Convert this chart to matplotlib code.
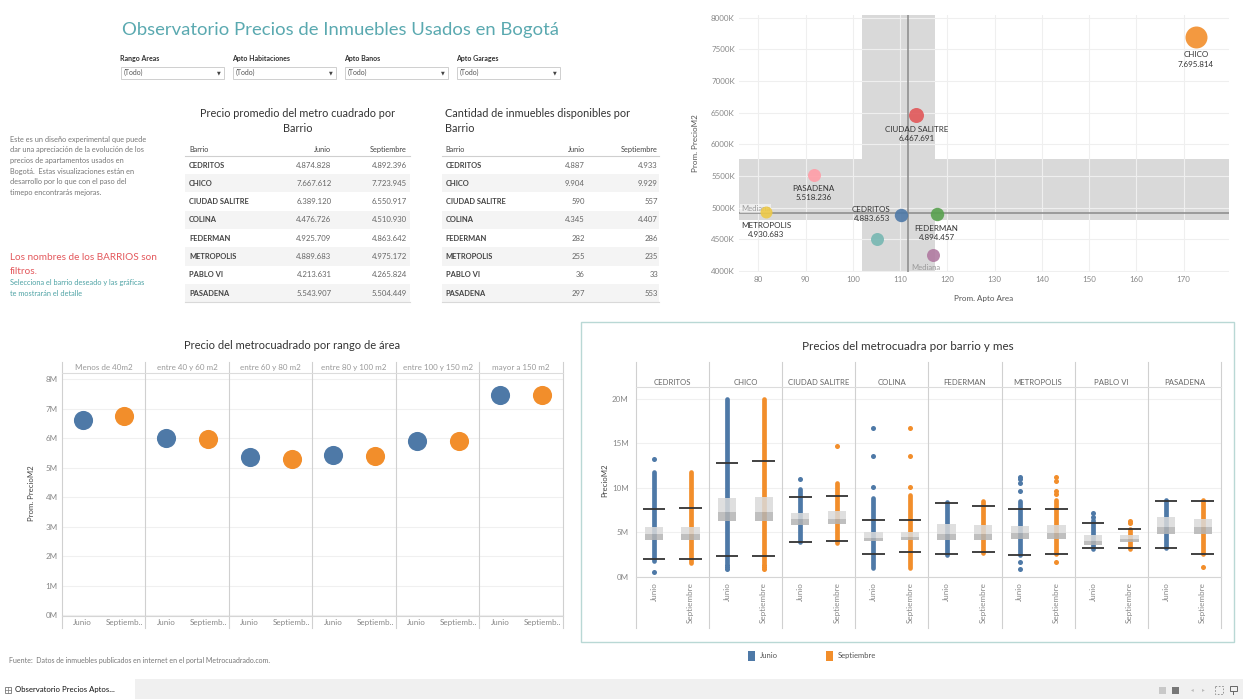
import numpy as np
import matplotlib
matplotlib.use('Agg')
import matplotlib.pyplot as plt
from matplotlib.patches import Rectangle
from matplotlib.ticker import FuncFormatter

plt.rcParams['font.family'] = ['Lato', 'DejaVu Sans']

W, H = 1243, 699
AZUL = '#4e79a7'
NARANJA = '#f28e2b'

# ---------------- datos ----------------
barrios = ['CEDRITOS', 'CHICO', 'CIUDAD SALITRE', 'COLINA', 'FEDERMAN',
           'METROPOLIS', 'PABLO VI', 'PASADENA']
meses = ['Junio', 'Septiembre']

precio_junio = [4874828, 7667612, 6389120, 4476726, 4925709, 4889683, 4213631, 5543907]
precio_septiembre = [4892396, 7723945, 6550917, 4510930, 4863642, 4975172, 4265824, 5504449]
cantidad_junio = [4887, 9904, 590, 4345, 282, 255, 36, 297]
cantidad_septiembre = [4933, 9929, 557, 4407, 286, 235, 33, 553]

# dispersion area vs precio
disp_barrios = ['CHICO', 'CIUDAD SALITRE', 'PASADENA', 'METROPOLIS', 'CEDRITOS',
                'FEDERMAN', 'COLINA', 'PABLO VI']
disp_area = [172.6, 113.4, 91.7, 81.6, 110.1, 117.7, 105.2, 117.0]
disp_precio = [7695814, 6467691, 5518236, 4930683, 4883653, 4894457, 4505000, 4253000]
disp_etiqueta = [True, True, True, True, True, True, False, False]
banda_area = (101.9, 117.3)
banda_precio = (4811000, 5768000)

# precio por rango de area (millones)
rangos = ['Menos de 40m2', 'entre 40 y 60 m2', 'entre 60 y 80 m2',
          'entre 80 y 100 m2', 'entre 100 y 150 m2', 'mayor a 150 m2']
rango_junio = [6.62, 6.01, 5.36, 5.43, 5.91, 7.46]
rango_septiembre = [6.77, 5.99, 5.31, 5.41, 5.90, 7.48]

# cajas por barrio y mes (millones), orden: barrio x (Junio, Septiembre)
caja_min = [1.82, 1.60, 1.52, 1.52, 3.88, 3.84, 0.96, 0.96, 2.46, 2.72, 2.46, 2.61, 3.09, 3.10, 3.21, 2.57]
caja_bigote_inf = [2.01, 2.01, 2.31, 2.31, 3.88, 4.03, 2.61, 2.76, 2.61, 2.83, 2.46, 2.61, 3.21, 3.21, 3.21, 2.57]
caja_q1 = [4.14, 4.14, 6.23, 6.23, 5.86, 5.97, 4.07, 4.10, 4.10, 4.10, 4.22, 4.22, 3.54, 3.88, 4.78, 4.78]
caja_mediana = [4.78, 4.78, 7.24, 7.24, 6.46, 6.50, 4.40, 4.52, 4.78, 4.82, 4.89, 4.97, 4.07, 4.22, 5.56, 5.56]
caja_q3 = [5.64, 5.64, 8.88, 9.00, 7.13, 7.36, 5.00, 5.00, 5.90, 5.79, 5.68, 5.79, 4.67, 4.71, 6.69, 6.46]
caja_bigote_sup = [7.66, 7.77, 12.80, 12.97, 8.93, 9.12, 6.35, 6.35, 8.33, 8.00, 7.62, 7.66, 6.01, 5.38, 8.56, 8.56]
caja_max = [11.81, 11.81, 20.0, 20.0, 9.83, 10.50, 8.82, 9.19, 8.37, 8.52, 8.56, 8.60, 6.40, 5.38, 8.63, 8.63]
caja_atipicos = [[13.19, 0.59], [], [1.33, 1.07, 0.85], [1.33, 1.07, 0.85], [10.95], [14.73],
                 [16.75, 13.57, 10.05], [16.75, 13.57, 10.13], [], [],
                 [11.25, 10.95, 10.58, 9.68, 1.71, 0.85], [11.25, 10.76, 9.68, 9.3, 1.71],
                 [7.21, 6.76], [6.27, 6.10], [], [1.15]]

colores_barrio = {'CHICO': '#f28e2b', 'CIUDAD SALITRE': '#e15759', 'PASADENA': '#ff9da7',
                  'METROPOLIS': '#edc948', 'CEDRITOS': '#4e79a7', 'FEDERMAN': '#59a14f',
                  'COLINA': '#76b7b2', 'PABLO VI': '#b07aa1'}
radio_barrio = {'CHICO': 11, 'CIUDAD SALITRE': 7.5, 'PASADENA': 6.5, 'METROPOLIS': 6,
                'CEDRITOS': 6.7, 'FEDERMAN': 6.7, 'COLINA': 6.5, 'PABLO VI': 6.5}


def miles(v):
    return f'{v:,}'.replace(',', '.')


def ejes_px(x0, y0, x1, y1):
    return fig.add_axes([x0 / W, 1 - y1 / H, (x1 - x0) / W, (y1 - y0) / H])


fig = plt.figure(figsize=(W / 100, H / 100), dpi=100)

# lienzo general en pixeles
bg = fig.add_axes([0, 0, 1, 1])
bg.set_xlim(0, W)
bg.set_ylim(H, 0)
bg.axis('off')

# titulo y filtros
bg.text(341, 30, 'Observatorio Precios de Inmuebles Usados en Bogotá', fontsize=13.3,
        color='#5aa9b0', ha='center', va='center')
filtros = ['Rango Areas', 'Apto Habitaciones', 'Apto Banos', 'Apto Garages']
for i, f in enumerate(filtros):
    x = 120 + i * 112
    bg.text(x, 58.5, f, fontsize=5, color='#333', fontweight='bold', va='center')
    bg.add_patch(Rectangle((x + 1, 66.5), 103, 12, fc='white', ec='#c8c8c8', lw=0.6))
    bg.text(x + 4, 72.5, '(Todo)', fontsize=5, color='#555', va='center')
    bg.text(x + 99, 72.5, '▼', fontsize=3.5, color='#444', va='center', ha='center')

# texto descriptivo
parrafo = ['Este es un diseño experimental que puede',
           'dar una apreciación de la evolución de los',
           'precios de apartamentos usados en',
           'Bogotá.  Estas visualizaciones están en',
           'desarrollo por lo que con el paso del',
           'timepo encontrarás mejoras.']
for i, linea in enumerate(parrafo):
    bg.text(10, 139.3 + i * 10.6, linea, fontsize=5.3, color='#777', va='center')
bg.text(10, 257.3, 'Los nombres de los BARRIOS son', fontsize=7.2, color='#e3585c', va='center')
bg.text(10, 271, 'filtros.', fontsize=7.2, color='#e3585c', va='center')
bg.text(10, 283, 'Selecciona el barrio deseado y las gráficas', fontsize=5.3, color='#4fa3a5', va='center')
bg.text(10, 293.3, 'te mostrarán el detalle', fontsize=5.3, color='#4fa3a5', va='center')


# tablas
def tabla(x0, x1, xj, xs, titulo, centrado, col_j, col_s, fmt):
    if centrado:
        bg.text((x0 + x1) / 2, 121, titulo, fontsize=7.8, color='#333', ha='center',
                va='center', linespacing=1.4)
    else:
        bg.text(x0 + 3, 121, titulo, fontsize=7.8, color='#333', ha='left',
                va='center', linespacing=1.4)
    bg.text(x0 + 4, 149.3, 'Barrio', fontsize=5.3, color='#444', va='center')
    bg.text(xj, 149.3, meses[0], fontsize=5.3, color='#444', va='center', ha='right')
    bg.text(xs, 149.3, meses[1], fontsize=5.3, color='#444', va='center', ha='right')
    bg.plot([x0, x1], [155.5, 155.5], color='#cfcfcf', lw=0.8)
    for i, b in enumerate(barrios):
        yc = 165 + i * 18.33
        if i % 2 == 1:
            bg.add_patch(Rectangle((x0, yc - 9.16), x1 - x0, 18.33, fc='#f4f4f4', ec='none'))
        bg.text(x0 + 4, yc, b, fontsize=5.4, color='#444', fontweight='bold', va='center')
        bg.text(xj, yc, fmt(col_j[i]), fontsize=5.6, color='#666', va='center', ha='right')
        bg.text(xs, yc, fmt(col_s[i]), fontsize=5.6, color='#666', va='center', ha='right')
    bg.plot([x0, x1], [302.3, 302.3], color='#d9d9d9', lw=0.8)


tabla(185, 410, 331.5, 407, 'Precio promedio del metro cuadrado por\nBarrio', True,
      precio_junio, precio_septiembre, miles)
tabla(441.7, 659.3, 585, 658, 'Cantidad de inmuebles disponibles por\nBarrio', False,
      cantidad_junio, cantidad_septiembre, miles)

# ---------------- dispersion ----------------
ax = ejes_px(739, 15, 1228.6, 271.7)
ax.set_facecolor('none')
ax.set_xlim(75.9, 179.5)
ax.set_ylim(3.989e6, 8.042e6)
ax.axvspan(*banda_area, color='#d9d9d9', lw=0, zorder=0)
ax.axhspan(*banda_precio, color='#d9d9d9', lw=0, zorder=0)
ax.set_xticks(np.arange(80, 171, 10))
ax.set_yticks(np.arange(4e6, 8.01e6, 5e5))
ax.yaxis.set_major_formatter(FuncFormatter(lambda v, p: f'{v / 1000:.0f}K'))
ax.grid(True, color='#efefef', lw=0.8, zorder=0.5)
ax.set_axisbelow(True)
for s in ax.spines.values():
    s.set_visible(False)
ax.tick_params(length=0, labelsize=5.8, labelcolor='#888', pad=3)
med_x = np.median(disp_area)
med_y = np.median(disp_precio)
ax.axvline(med_x, color='#8a8a8a', lw=1.1, zorder=1)
ax.axhline(med_y, color='#8a8a8a', lw=1.1, zorder=1)
for b, xa, yp, lab in zip(disp_barrios, disp_area, disp_precio, disp_etiqueta):
    r = radio_barrio[b]
    ax.scatter(xa, yp, s=(2 * r * 0.72) ** 2, color=colores_barrio[b], alpha=0.9,
               lw=0, zorder=3)
    if not lab:
        continue
    txt = f'{b}\n{miles(yp)}'
    if b == 'CEDRITOS':
        ax.annotate(txt, (xa, yp), xytext=(-(r + 3.5) * 0.72, 0.5), textcoords='offset points',
                    ha='right', va='center', fontsize=5.8, color='#333', linespacing=1.35, zorder=4)
    else:
        ax.annotate(txt, (xa, yp), xytext=(0, -(r + 3.5) * 0.72), textcoords='offset points',
                    ha='center', va='top', fontsize=5.8, color='#333', linespacing=1.35, zorder=4)
ax.text(76.3, med_y + 20000, 'Mediana', fontsize=5.5, color='#999', va='bottom', ha='left',
        bbox=dict(fc='white', ec='none', alpha=0.55, pad=0.6), zorder=2)
ax.text(med_x + 0.6, 3.995e6, 'Mediana', fontsize=5.5, color='#999', va='bottom', ha='left', zorder=2)
bg.text(696, 143, 'Prom. PrecioM2', fontsize=5.8, color='#555', rotation=90, ha='center', va='center')
bg.text(984, 299, 'Prom. Apto Area', fontsize=5.8, color='#555', ha='center', va='center')

# ---------------- precio por rango de area ----------------
bg.text(292, 345.7, 'Precio del metrocuadrado por rango de área', fontsize=8, color='#333',
        ha='center', va='center')
ax2 = ejes_px(61.8, 373.3, 563, 616)
ax2.set_facecolor('none')
ax2.set_xlim(0, 12)
ax2.set_ylim(-0.024, 8.2)
pos_r = np.arange(len(rangos)) * 2
ax2.scatter(pos_r + 0.5, rango_junio, s=190, color=AZUL, lw=0, zorder=3)
ax2.scatter(pos_r + 1.5, rango_septiembre, s=190, color=NARANJA, lw=0, zorder=3)
ax2.set_yticks(np.arange(0, 9))
ax2.yaxis.set_major_formatter(FuncFormatter(lambda v, p: f'{v:.0f}M'))
ax2.grid(True, axis='y', color='#f0f0f0', lw=0.8)
ax2.set_axisbelow(True)
ax2.set_xticks(np.concatenate([pos_r + 0.5, pos_r + 1.5]))
ax2.set_xticklabels(['Junio'] * 6 + ['Septiemb..'] * 6)
ax2.tick_params(length=0, labelsize=5.8, labelcolor='#888', pad=2.5)
ax2.tick_params(axis='y', pad=3)
for k in ['left', 'right']:
    ax2.spines[k].set_visible(False)
ax2.spines['bottom'].set_color('#d5d5d5')
ax2.spines['top'].set_color('#dcdcdc')
ax2.spines['bottom'].set_linewidth(0.8)
ax2.spines['top'].set_linewidth(0.8)
for xs in np.arange(0, 13, 2):
    ax2.plot([xs, xs], [-0.049, 1.048], transform=ax2.get_xaxis_transform(),
             color='#d0d0d0', lw=0.8, clip_on=False)
for i, rg in enumerate(rangos):
    ax2.text(pos_r[i] + 1, 1.023, rg, transform=ax2.get_xaxis_transform(), fontsize=5.8,
             color='#999', ha='center', va='center')
bg.text(31.4, 493, 'Prom. PrecioM2', fontsize=5.6, color='#444', rotation=90, ha='center', va='center')

# ---------------- cajas por barrio y mes ----------------
bg.add_patch(Rectangle((581.5, 321.5), 652.5, 320, fc='none', ec='#b9d8d5', lw=1))
bg.text(908, 346.7, 'Precios del metrocuadra por barrio y mes', fontsize=8.4, color='#333',
        ha='center', va='center')
ax3 = ejes_px(635.7, 387, 1221, 577.3)
ax3.set_facecolor('none')
ax3.set_xlim(0, 16)
ax3.set_ylim(-0.045, 21.31)
pos = np.arange(16) + 0.5
colores = [AZUL, NARANJA] * 8
ax3.vlines(pos, caja_bigote_inf, caja_q1, color='#444', lw=0.8, zorder=2)
ax3.vlines(pos, caja_q3, caja_bigote_sup, color='#444', lw=0.8, zorder=2)
for i in range(16):
    ax3.vlines(pos[i], caja_min[i], caja_max[i], color=colores[i], lw=3.4,
               capstyle='round', zorder=3)
    if caja_atipicos[i]:
        ax3.scatter([pos[i]] * len(caja_atipicos[i]), caja_atipicos[i], s=13,
                    color=colores[i], lw=0, zorder=3)
ax3.bar(pos, np.subtract(caja_mediana, caja_q1), bottom=caja_q1, width=0.5,
        color='#b4b4b4', alpha=0.85, lw=0, zorder=4)
ax3.bar(pos, np.subtract(caja_q3, caja_mediana), bottom=caja_mediana, width=0.5,
        color='#dadada', alpha=0.85, lw=0, zorder=4)
ax3.hlines(caja_bigote_sup, pos - 0.31, pos + 0.31, color='#333', lw=1.3, zorder=5)
ax3.hlines(caja_bigote_inf, pos - 0.31, pos + 0.31, color='#333', lw=1.3, zorder=5)
ax3.set_yticks([0, 5, 10, 15, 20])
ax3.yaxis.set_major_formatter(FuncFormatter(lambda v, p: f'{v:.0f}M'))
ax3.grid(True, axis='y', color='#f0f0f0', lw=0.8)
ax3.set_axisbelow(True)
ax3.set_xticks(pos)
ax3.set_xticklabels(meses * 8, rotation=90, va='top')
ax3.tick_params(length=0, labelsize=5.8, labelcolor='#888', pad=3.4)
ax3.tick_params(axis='y', pad=5)
for k in ['left', 'right']:
    ax3.spines[k].set_visible(False)
ax3.spines['bottom'].set_color('#d5d5d5')
ax3.spines['top'].set_color('#dcdcdc')
ax3.spines['bottom'].set_linewidth(0.8)
ax3.spines['top'].set_linewidth(0.8)
for xs in np.arange(0, 17, 2):
    ax3.plot([xs, xs], [-0.268, 1.133], transform=ax3.get_xaxis_transform(),
             color='#d0d0d0', lw=0.8, clip_on=False)
for i, b in enumerate(barrios):
    ax3.text(2 * i + 1, 1.026, b, transform=ax3.get_xaxis_transform(), fontsize=5.6,
             color='#666', ha='center', va='center')
bg.text(605, 480, 'PrecioM2', fontsize=5.6, color='#444', rotation=90, ha='center', va='center')

# leyenda
bg.add_patch(Rectangle((748, 651), 7.5, 9.5, fc=AZUL, ec='none'))
bg.text(759.5, 655.7, meses[0], fontsize=5.5, color='#555', va='center')
bg.add_patch(Rectangle((826, 651), 7.5, 9.5, fc=NARANJA, ec='none'))
bg.text(837.5, 655.7, meses[1], fontsize=5.5, color='#555', va='center')

# pie
bg.text(9.5, 660.7, 'Fuente:  Datos de inmuebles publicados en internet en el portal Metrocuadrado.com.',
        fontsize=5, color='#777', va='center')
bg.add_patch(Rectangle((135, 679), W - 135, 20, fc='#f0f0f0', ec='none'))
bg.add_patch(Rectangle((5, 686.5), 6, 6, fc='none', ec='#777', lw=0.6))
bg.plot([5, 11], [689.5, 689.5], color='#777', lw=0.5)
bg.plot([8, 8], [686.5, 692.5], color='#777', lw=0.5)
bg.text(15, 689.5, 'Observatorio Precios Aptos...', fontsize=5.6, color='#111', va='center')
bg.add_patch(Rectangle((1159, 686.5), 7, 7, fc='#c8c8c8', ec='none'))
bg.add_patch(Rectangle((1172, 686.5), 7, 7, fc='#777', ec='none'))
bg.text(1192, 690, '◂', fontsize=4, color='#bbb', ha='center', va='center')
bg.text(1203, 690, '▸', fontsize=4, color='#bbb', ha='center', va='center')
bg.add_patch(Rectangle((1215, 686), 8, 8, fc='none', ec='#888', lw=0.6, ls=(0, (2, 2))))
bg.add_patch(Rectangle((1230, 686), 7, 5, fc='none', ec='#666', lw=0.7))
bg.plot([1233.5, 1233.5], [691, 694], color='#666', lw=0.7)

fig.savefig('out.png', dpi=100)
